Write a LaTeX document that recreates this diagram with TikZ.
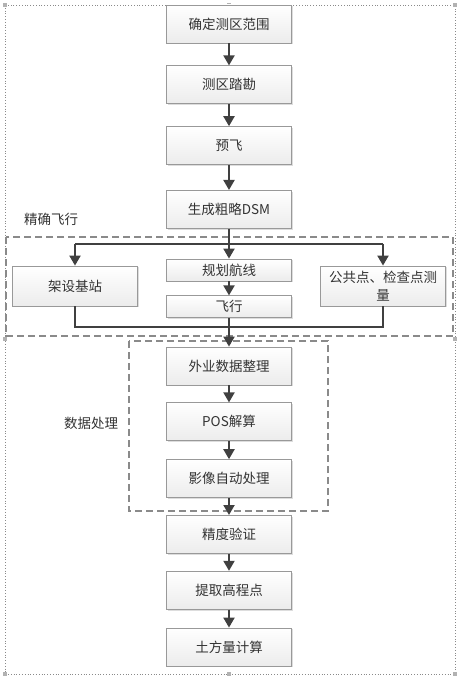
\documentclass[tikz,border=0pt]{standalone}
\usepackage{fontspec}
\setmainfont{Noto Sans CJK SC}
\usetikzlibrary{arrows.meta,positioning,shadows}
\definecolor{linegray}{HTML}{404040}
\definecolor{framegray}{HTML}{8A8A8A}
\definecolor{textgray}{HTML}{333333}

\begin{document}
\begin{tikzpicture}[x=1pt,y=-1pt,node distance=22pt,
 stepbox/.style={draw=gray!80,line width=0.8pt,top color=white,bottom color=gray!15,minimum width=125pt,minimum height=38pt,inner sep=2pt,align=center,font=\fontsize{13.5}{18}\selectfont,text=textgray,drop shadow={shadow xshift=1.3pt,shadow yshift=-1.3pt,fill=gray!45,opacity=0.6}},
 thinbox/.style={stepbox,minimum height=22pt},
 flow/.style={-{Triangle[length=10pt,width=11pt]},line width=2pt,draw=linegray},
 link/.style={line width=2pt,draw=linegray},
 groupbox/.style={draw=framegray,line width=1.3pt,dash pattern=on 7pt off 4pt},
 grouplabel/.style={anchor=west,inner sep=0pt,font=\fontsize{13.5}{16}\selectfont,text=textgray}]
\useasboundingbox (0,0) rectangle (464,684);
% outer frame with handles
\draw[framegray,dotted,line width=0.8pt] (5,5) rectangle (455,674);
\foreach \hx/\hy in {5/5,229/5,455/5,5/339,455/339,5/674,229/674,455/674}
  \fill[gray!60] (\hx-2,\hy-2) rectangle (\hx+2,\hy+2);
% main column
\node[stepbox] (range) at (229,24) {确定测区范围};
\node[stepbox,below=of range] (survey) {测区踏勘};
\node[stepbox,below=of survey] (pre) {预飞};
\node[stepbox,below=25pt of pre] (dsm) {生成粗略DSM};
% fine flight
\draw[groupbox] (6,237) rectangle (453,336);
\node[grouplabel] (finelabel) at (24,219) {精确飞行};
\node[thinbox] (route) at (229,270) {规划航线};
\node[thinbox,below=14pt of route] (fly) {飞行};
\node[stepbox,minimum height=40pt] (base) at (75,286) {架设基站};
\node[stepbox,minimum height=40pt] (points) at (383,286) {公共点、检查点测\\量};
\coordinate (split) at (229,244);
\coordinate (merge) at (229,327);
% data processing
\draw[groupbox] (129,341) rectangle (328,511);
\node[grouplabel] (datalabel) at (64,423) {数据处理};
\node[stepbox] (field) at (229,366) {外业数据整理};
\node[stepbox,below=17pt of field] (pos) {POS解算};
\node[stepbox,below=18pt of pos] (image) {影像自动处理};
\node[stepbox,below=17pt of image] (check) {精度验证};
\node[stepbox,below=17pt of check] (height) {提取高程点};
\node[stepbox,below=18pt of height] (volume) {土方量计算};
% connectors
\draw[flow] (range) -- (survey);
\draw[flow] (survey) -- (pre);
\draw[flow] (pre) -- (dsm);
\draw[flow] (dsm) -- (route);
\draw[link] (base.north |- split) -- (points.north |- split);
\draw[flow] (base.north |- split) -- (base);
\draw[flow] (points.north |- split) -- (points);
\draw[flow] (route) -- (fly);
\draw[link] (base) -- (base.south |- merge) -- (points.south |- merge) -- (points);
\draw[flow] (fly) -- (field);
\draw[flow] (field) -- (pos);
\draw[flow] (pos) -- (image);
\draw[flow] (image) -- (check);
\draw[flow] (check) -- (height);
\draw[flow] (height) -- (volume);
\end{tikzpicture}
\end{document}
